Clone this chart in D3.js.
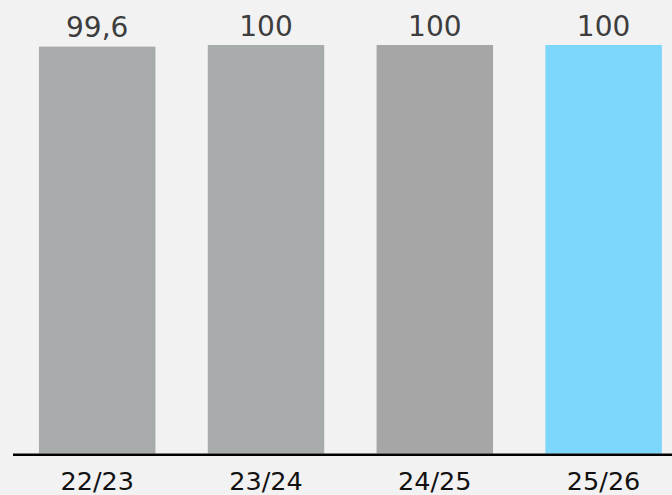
<!DOCTYPE html>
<html>
<head>
<meta charset="utf-8">
<script src="https://cdn.jsdelivr.net/npm/d3@7"></script>
<style>
  html, body { margin: 0; padding: 0; background: #f2f2f2; }
  svg { display: block; }
  text { font-family: "DejaVu Sans", sans-serif; }
</style>
</head>
<body>
<script>
// Season labels and their values
const seasons = ["22/23", "23/24", "24/25", "25/26"];
const values = [99.6, 100, 100, 100];
const valueLabels = ["99,6", "100", "100", "100"];
const barColors = ["#a7abab", "#a7abab", "#a6a6a6", "#7dd6fb"];

const W = 672, H = 495;
const svg = d3.select("body").append("svg")
  .attr("width", W).attr("height", H);

svg.append("rect").attr("width", W).attr("height", H).attr("fill", "#f2f2f2");

const x = d3.scaleBand()
  .domain(seasons)
  .range([12.8, 688])
  .paddingInner(0.31)
  .paddingOuter(0.155);

const y = d3.scaleLinear()
  .domain([0, 100])
  .range([453.5, 45]);

const data = seasons.map((s, i) => ({ season: s, value: values[i], label: valueLabels[i], color: barColors[i] }));

// Bars
svg.append("g").selectAll("rect")
  .data(data)
  .join("rect")
  .attr("x", d => x(d.season))
  .attr("y", d => y(d.value))
  .attr("width", x.bandwidth())
  .attr("height", d => y(0) - y(d.value))
  .attr("fill", d => d.color);

// Value labels above bars
svg.append("g").selectAll("text")
  .data(data)
  .join("text")
  .attr("x", d => x(d.season) + x.bandwidth() / 2)
  .attr("y", d => y(d.value) - 9.5)
  .attr("text-anchor", "middle")
  .attr("font-size", 28)
  .attr("fill", "#3d3d3d")
  .text(d => d.label);

// Baseline axis with season labels
const axis = svg.append("g")
  .attr("transform", `translate(0,${y(0)})`)
  .call(d3.axisBottom(x).tickSize(0).tickPadding(0));
axis.select(".domain").remove();
axis.append("line")
  .attr("x1", 13).attr("x2", W)
  .attr("y1", 1.3).attr("y2", 1.3)
  .attr("stroke", "#000").attr("stroke-width", 2.6);
axis.selectAll(".tick text")
  .attr("dy", null)
  .attr("y", 36.5)
  .attr("font-family", "DejaVu Sans, sans-serif")
  .attr("font-size", 25.5)
  .attr("fill", "#111");
</script>
</body>
</html>
